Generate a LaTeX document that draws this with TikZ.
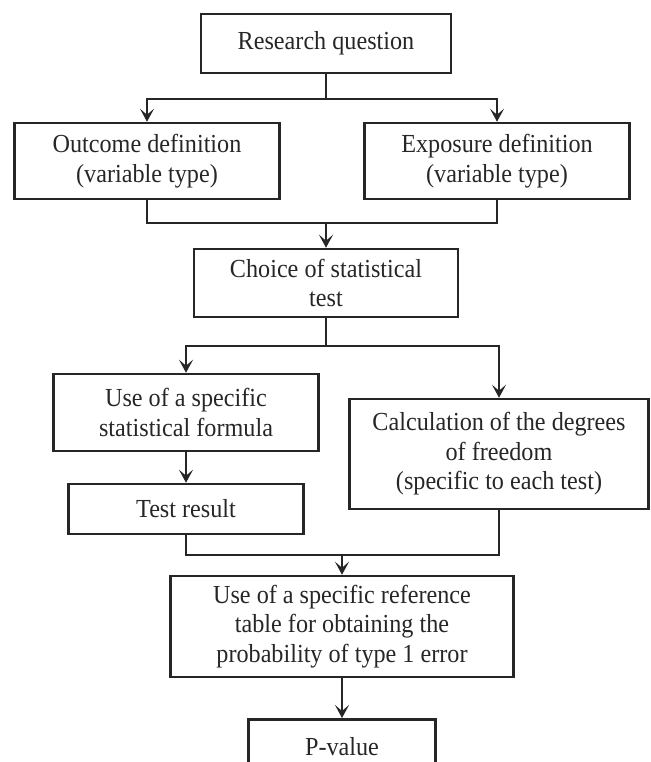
\documentclass[tikz,border=0pt]{standalone}
\usepackage{fontspec}
\setmainfont{Liberation Serif}[FakeStretch=0.93]
\usetikzlibrary{arrows.meta,positioning}

\tikzset{
  box/.style={draw=black!85, line width=2.5pt, align=center, inner sep=0pt,
    text=black!85, font=\fontsize{26}{29.5}\selectfont},
  flow/.style={draw=black!85, line width=2.5pt},
}

\begin{document}
\begin{tikzpicture}[x=1pt,y=-1pt,>={Stealth[length=13pt,width=14pt,inset=6pt]}]
  \useasboundingbox (0,0) rectangle (650,762);
  \clip (0,0) rectangle (650,762);
  % boxes
  \node[box, minimum width=250, minimum height=59] (rq) at (326,43.5) {Research question};
  \node[box, minimum width=265, minimum height=76] (out) at (147,161) {Outcome definition\\(variable type)};
  \node[box, minimum width=265, minimum height=76] (exp) at (497,161) {Exposure definition\\(variable type)};
  \node[box, minimum width=264, minimum height=68] (ch) at (326,283) {Choice of statistical\\test};
  \node[box, minimum width=265, minimum height=77] (form) at (186,412.5) {Use of a specific\\statistical formula};
  \node[box, minimum width=299, minimum height=110] (calc) at (499,454) {Calculation of the degrees\\of freedom\\(specific to each test)};
  \node[box, minimum width=235, minimum height=50] (test) at (186,509) {Test result};
  \node[box, minimum width=343, minimum height=101] (ref) at (342,626.5) {Use of a specific reference\\table for obtaining the\\probability of type 1 error};
  \node[box, minimum width=187, minimum height=54, anchor=north] (pv) at (342,718) {P-value};
  % joints
  \coordinate (s1) at (326,99);
  \coordinate (m1) at (326,223);
  \coordinate (s2) at (326,346);
  \coordinate (m2) at (342,555);
  % connectors
  \draw[flow] (rq) -- (s1);
  \draw[flow,->] (s1) -| (out);
  \draw[flow,->] (s1) -| (exp);
  \draw[flow] (out) |- (m1) -| (exp);
  \draw[flow,->] (m1) -- (ch);
  \draw[flow] (ch) -- (s2);
  \draw[flow,->] (s2) -| (form);
  \draw[flow,->] (s2) -| (calc);
  \draw[flow,->] (form) -- (test);
  \draw[flow] (test) |- (m2) -| (calc);
  \draw[flow,->] (m2) -- (ref);
  \draw[flow,->] (ref) -- (pv);
\end{tikzpicture}
\end{document}
